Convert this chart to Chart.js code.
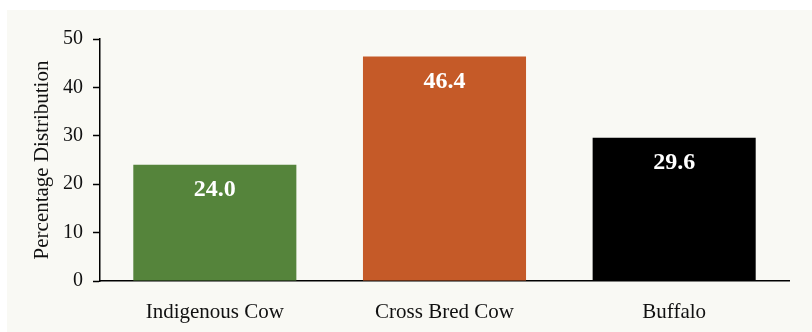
<!DOCTYPE html>
<html>
<head>
<meta charset="utf-8">
<script src="https://cdn.jsdelivr.net/npm/chart.js@4"></script>
<style>
  html, body { margin: 0; padding: 0; background: #ffffff; }
  #wrap { position: relative; width: 812px; height: 332px; }
</style>
</head>
<body>
<div id="wrap"><canvas id="chart" width="812" height="332"></canvas></div>
<script>
// chart data
const animals = ['Indigenous Cow', 'Cross Bred Cow', 'Buffalo'];
const shares = [24.0, 46.4, 29.6];
const barColors = ['#55843b', '#c55a28', '#000000'];
const yTicks = [0, 10, 20, 30, 40, 50];

const serif = '"Liberation Serif", "DejaVu Serif", serif';

// light panel behind the plot
const panelBg = {
    id: 'panelBg',
    beforeDraw(chart) {
        const c = chart.ctx;
        c.save();
        c.fillStyle = '#f9f9f4';
        c.fillRect(7, 10, 805, 322);
        c.restore();
    }
};

// white values inside top of each bar
const barValues = {
    id: 'barValues',
    afterDatasetsDraw(chart) {
        const c = chart.ctx;
        const meta = chart.getDatasetMeta(0);
        c.save();
        c.fillStyle = '#ffffff';
        c.font = 'bold 24px ' + serif;
        c.textAlign = 'center';
        c.textBaseline = 'middle';
        meta.data.forEach(function (bar, i) {
            c.fillText(shares[i].toFixed(1), bar.x, bar.y + 25);
        });
        c.restore();
    }
};

const ctx = document.getElementById('chart').getContext('2d');
const myChart = new Chart(ctx, {
    type: 'bar',
    data: {
        labels: animals,
        datasets: [{
            data: shares,
            backgroundColor: barColors,
            categoryPercentage: 0.71,
            barPercentage: 1.0
        }]
    },
    options: {
        responsive: false,
        animation: false,
        layout: { padding: { left: 0, right: 23, top: 39, bottom: 0 } },
        plugins: { legend: { display: false }, tooltip: { enabled: false } },
        scales: {
            x: {
                grid: { display: false },
                border: { display: true, color: '#000', width: 1.5 },
                ticks: { color: '#111', font: { family: serif, size: 21 }, padding: 11 },
                afterFit(scale) { scale.height = 51; }
            },
            y: {
                min: 0,
                max: 50,
                afterBuildTicks(scale) { scale.ticks = yTicks.map(v => ({ value: v })); },
                grid: { drawOnChartArea: false, drawTicks: true, tickLength: 7, tickColor: '#000', tickWidth: 1.5 },
                border: { display: true, color: '#000', width: 1.5 },
                ticks: { color: '#111', font: { family: serif, size: 20 }, padding: 10 },
                title: {
                    display: true,
                    text: 'Percentage Distribution',
                    color: '#111',
                    font: { family: serif, size: 21 },
                    padding: { top: 30, bottom: 0 }
                },
                afterFit(scale) { scale.width = 100; }
            }
        }
    },
    plugins: [panelBg, barValues]
});
</script>
</body>
</html>
